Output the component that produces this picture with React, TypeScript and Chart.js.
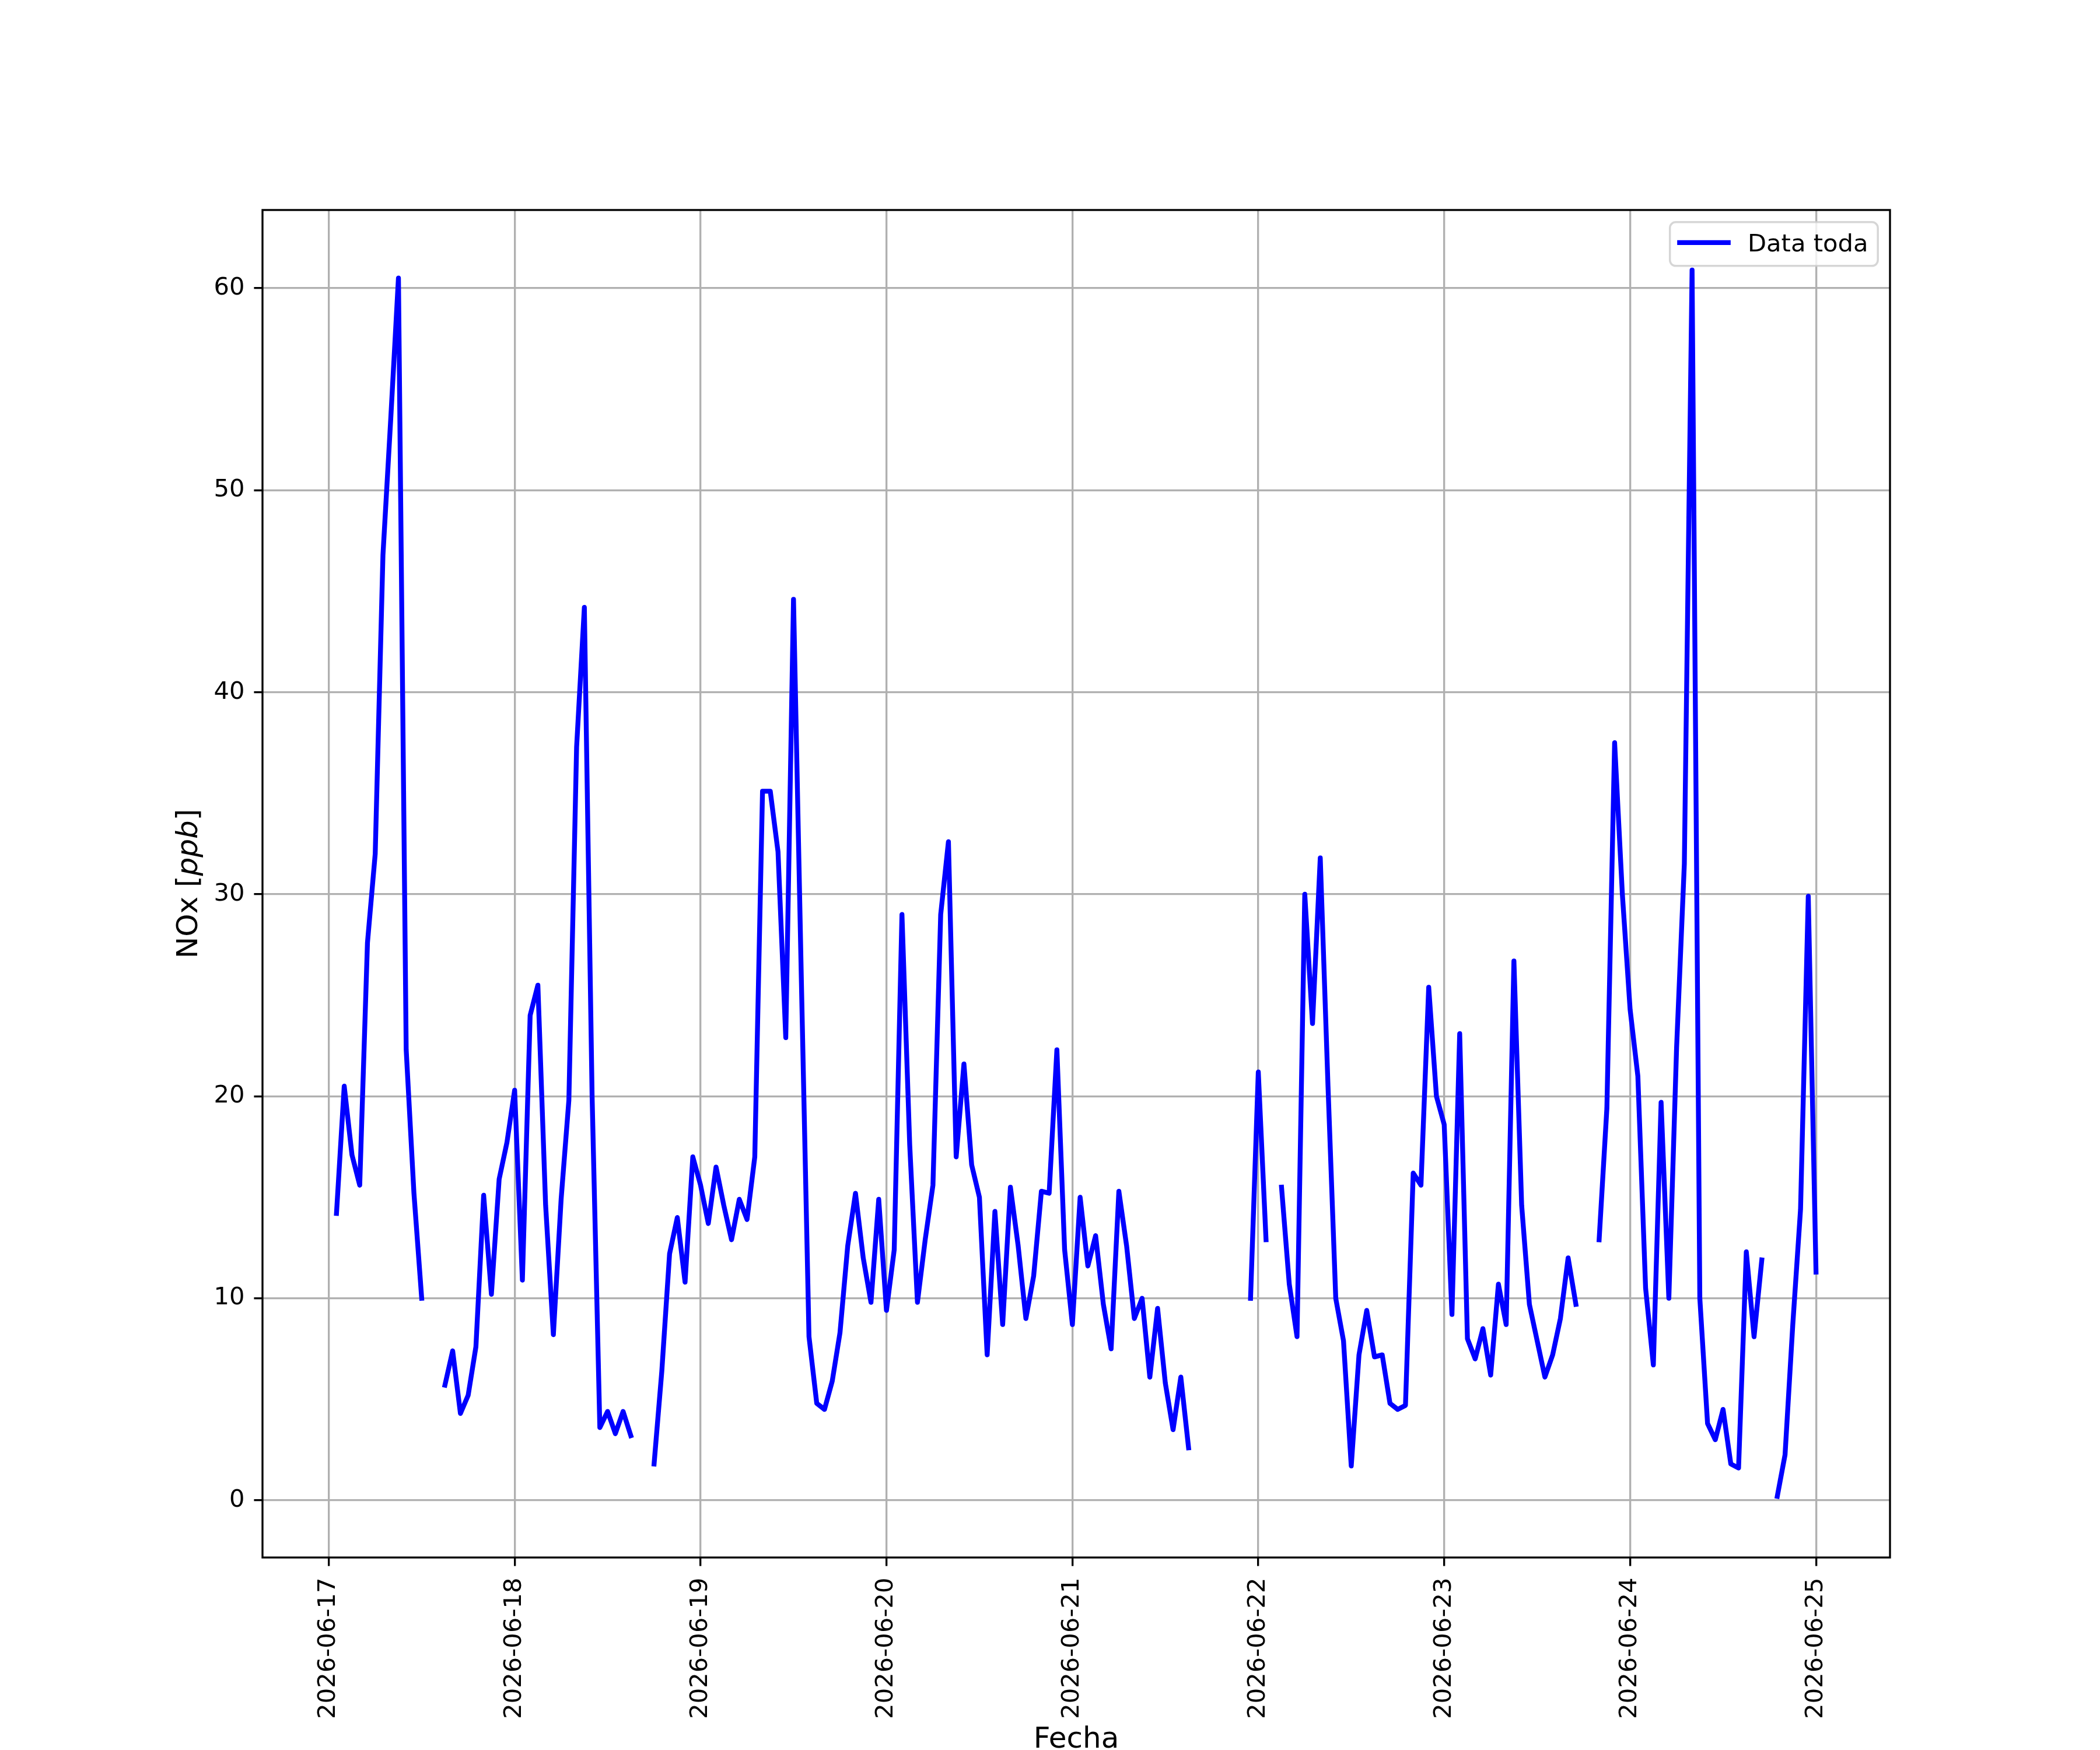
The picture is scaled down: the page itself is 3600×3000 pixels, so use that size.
import { useEffect, useRef } from 'react';
import { Chart, registerables } from 'chart.js';

Chart.register(...registerables);

// ---------------- data ----------------
// hourly NOx series, first value at 2026-06-17 01:00 (null = missing hour)
const seriesLabel = 'Data toda';
const dayLabels = [
  '2026-06-17', '2026-06-18', '2026-06-19', '2026-06-20', '2026-06-21',
  '2026-06-22', '2026-06-23', '2026-06-24', '2026-06-25',
];
const yTickValues = [0, 10, 20, 30, 40, 50, 60];

const noxDay1 = [14.2, 20.5, 17.1, 15.6, 27.6, 32.0, 46.8, 53.5, 60.5, 22.3, 15.2, 10.0, null, null, 5.7, 7.4, 4.3, 5.2, 7.6, 15.1, 10.2, 15.9, 17.7, 20.3];
const noxDay2 = [10.9, 24.0, 25.5, 14.6, 8.2, 14.9, 19.8, 37.3, 44.2, 20.0, 3.6, 4.4, 3.3, 4.4, 3.2, null, null, 1.8, 6.4, 12.2, 14.0, 10.8, 17.0, 15.6];
const noxDay3 = [13.7, 16.5, 14.6, 12.9, 14.9, 13.9, 17.0, 35.1, 35.1, 32.1, 22.9, 44.6, 26.0, 8.1, 4.8, 4.5, 5.9, 8.3, 12.6, 15.2, 12.0, 9.8, 14.9, 9.4];
const noxDay4 = [12.4, 29.0, 17.6, 9.8, 12.9, 15.6, 29.0, 32.6, 17.0, 21.6, 16.6, 15.0, 7.2, 14.3, 8.7, 15.5, 12.6, 9.0, 11.1, 15.3, 15.2, 22.3, 12.4, 8.7];
const noxDay5 = [15.0, 11.6, 13.1, 9.7, 7.5, 15.3, 12.6, 9.0, 10.0, 6.1, 9.5, 5.8, 3.5, 6.1, 2.6, null, null, null, null, null, null, null, 10.0, 21.2];
const noxDay6 = [12.9, null, 15.5, 10.7, 8.1, 30.0, 23.6, 31.8, 20.5, 10.0, 7.9, 1.7, 7.2, 9.4, 7.1, 7.2, 4.8, 4.5, 4.7, 16.2, 15.6, 25.4, 20.0, 18.6];
const noxDay7 = [9.2, 23.1, 8.0, 7.0, 8.5, 6.2, 10.7, 8.7, 26.7, 14.6, 9.7, 7.9, 6.1, 7.2, 9.0, 12.0, 9.7, null, null, 12.9, 19.4, 37.5, 30.0, 24.3];
const noxDay8 = [21.0, 10.5, 6.7, 19.7, 10.0, 22.4, 31.5, 60.9, 10.0, 3.8, 3.0, 4.5, 1.8, 1.6, 12.3, 8.1, 11.9, null, 0.2, 2.25, 8.7, 14.4, 29.9, 11.3];

const noxValues: (number | null)[] = [
  ...noxDay1, ...noxDay2, ...noxDay3, ...noxDay4,
  ...noxDay5, ...noxDay6, ...noxDay7, ...noxDay8,
];

// ---------------- styling ----------------
const PT = 300 / 72;
const FONT = '"DejaVu Sans", "Liberation Sans", sans-serif';
const TICK_FS = 10 * PT;
const LABEL_FS = 12 * PT;
const LINE_W = 2 * PT;
const THIN = 0.8 * PT;

const decorPlugin = {
  id: 'decor',
  afterDraw(chart: any) {
    const { ctx, chartArea: ca } = chart;
    ctx.save();

    // spines
    ctx.strokeStyle = '#000';
    ctx.lineWidth = THIN;
    ctx.strokeRect(ca.left, ca.top, ca.right - ca.left, ca.bottom - ca.top);

    // legend
    const label = chart.data.datasets[0].label as string;
    ctx.font = `${TICK_FS}px ${FONT}`;
    const tw = ctx.measureText(label).width;
    const pad = 0.4 * TICK_FS;
    const handle = 2 * TICK_FS;
    const hpad = 0.8 * TICK_FS;
    const w = pad + handle + hpad + tw + pad;
    const h = 75;
    const right = ca.right - 0.5 * TICK_FS;
    const top = ca.top + 0.5 * TICK_FS;
    const left = right - w;
    const r = 10;
    ctx.beginPath();
    ctx.moveTo(left + r, top);
    ctx.arcTo(right, top, right, top + h, r);
    ctx.arcTo(right, top + h, left, top + h, r);
    ctx.arcTo(left, top + h, left, top, r);
    ctx.arcTo(left, top, right, top, r);
    ctx.closePath();
    ctx.fillStyle = 'rgba(255,255,255,0.8)';
    ctx.fill();
    ctx.strokeStyle = 'rgba(204,204,204,0.8)';
    ctx.lineWidth = 3.5;
    ctx.stroke();

    ctx.beginPath();
    ctx.strokeStyle = '#0000ff';
    ctx.lineWidth = LINE_W;
    ctx.lineCap = 'square';
    ctx.moveTo(left + pad, top + 35);
    ctx.lineTo(left + pad + handle, top + 35);
    ctx.stroke();

    ctx.fillStyle = '#000';
    ctx.textAlign = 'left';
    ctx.textBaseline = 'alphabetic';
    ctx.fillText(label, left + pad + handle + hpad, top + 50);

    // x axis title
    ctx.font = `${LABEL_FS}px ${FONT}`;
    ctx.textAlign = 'center';
    ctx.fillText('Fecha', (ca.left + ca.right) / 2, 2996);

    // y axis title: NOx [ppb] with italic ppb
    const parts = [
      { t: 'NOx [', f: `${LABEL_FS}px ${FONT}` },
      { t: 'ppb', f: `italic ${LABEL_FS}px ${FONT}` },
      { t: ']', f: `${LABEL_FS}px ${FONT}` },
    ];
    let total = 0;
    const widths = parts.map((p) => {
      ctx.font = p.f;
      const wd = ctx.measureText(p.t).width;
      total += wd;
      return wd;
    });
    ctx.translate(338, (ca.top + ca.bottom) / 2);
    ctx.rotate(-Math.PI / 2);
    ctx.textAlign = 'left';
    let x = -total / 2;
    parts.forEach((p, i) => {
      ctx.font = p.f;
      ctx.fillText(p.t, x, 0);
      x += widths[i];
    });

    ctx.restore();
  },
};

export default function App() {
  const ref = useRef<HTMLCanvasElement | null>(null);

  useEffect(() => {
    if (!ref.current) return;
    const points = noxValues.map((v, i) => ({ x: i + 1, y: v }));
    const chart = new Chart(ref.current, {
      type: 'line',
      data: {
        datasets: [
          {
            label: seriesLabel,
            data: points as any,
            borderColor: '#0000ff',
            backgroundColor: '#0000ff',
            borderWidth: LINE_W,
            pointRadius: 0,
            pointHoverRadius: 0,
            spanGaps: false,
            tension: 0,
            fill: false,
            borderCapStyle: 'square',
            borderJoinStyle: 'round',
          },
        ],
      },
      options: {
        animation: false,
        responsive: false,
        devicePixelRatio: 1,
        events: [],
        layout: { padding: { top: 360, right: 360, left: 0, bottom: 0 } },
        plugins: {
          legend: { display: false },
          tooltip: { enabled: false },
          title: { display: false },
        },
        scales: {
          x: {
            type: 'linear',
            min: -8.55,
            max: 201.55,
            afterBuildTicks: (s: any) => {
              s.ticks = dayLabels.map((_, i) => ({ value: i * 24 }));
            },
            afterFit: (s: any) => {
              s.height = 330;
            },
            ticks: {
              autoSkip: false,
              maxRotation: 90,
              minRotation: 90,
              padding: 20,
              color: '#000',
              font: { family: FONT, size: TICK_FS },
              callback: (v: any) => dayLabels[Math.round(Number(v) / 24)] ?? '',
            },
            grid: {
              color: '#b0b0b0',
              lineWidth: THIN,
              tickLength: 3.5 * PT,
              tickColor: '#000',
              tickWidth: THIN,
            },
            border: { display: false },
          },
          y: {
            type: 'linear',
            min: -2.83,
            max: 63.87,
            afterBuildTicks: (s: any) => {
              s.ticks = yTickValues.map((v) => ({ value: v }));
            },
            afterFit: (s: any) => {
              s.width = 450;
            },
            ticks: {
              padding: 16,
              color: '#000',
              font: { family: FONT, size: TICK_FS },
              callback: (v: any) => String(v),
            },
            grid: {
              color: '#b0b0b0',
              lineWidth: THIN,
              tickLength: 3.5 * PT,
              tickColor: '#000',
              tickWidth: THIN,
            },
            border: { display: false },
          },
        },
      },
      plugins: [decorPlugin],
    });
    return () => chart.destroy();
  }, []);

  return (
    <div style={{ position: 'fixed', left: 0, top: 0, width: 3600, height: 3000, background: '#fff' }}>
      <canvas ref={ref} width={3600} height={3000} style={{ width: 3600, height: 3000, display: 'block' }} />
    </div>
  );
}
